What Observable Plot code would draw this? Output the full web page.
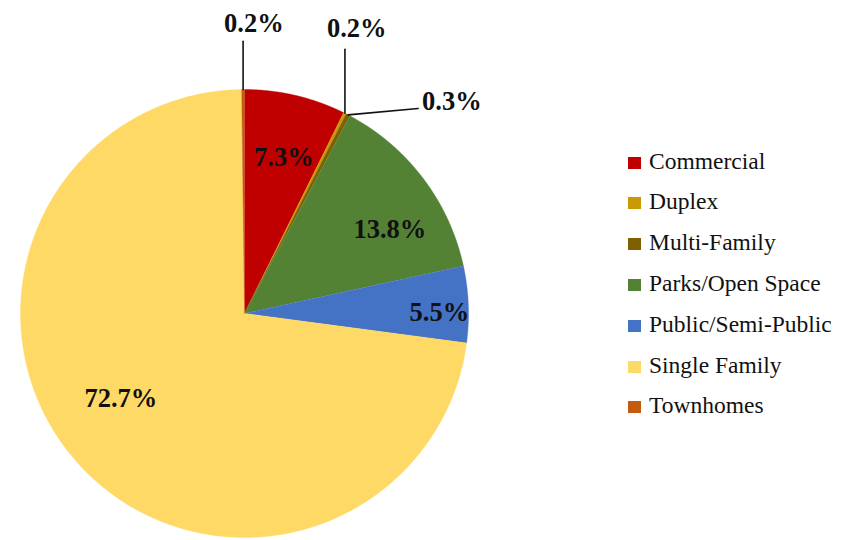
<!DOCTYPE html>
<html>
<head>
<meta charset="utf-8">
<script src="https://cdn.jsdelivr.net/npm/d3@7"></script>
<script src="https://cdn.jsdelivr.net/npm/@observablehq/plot@0.6"></script>
<style>
  html, body { margin: 0; padding: 0; background: #fff; }
  #wrap { position: relative; width: 846px; height: 540px; overflow: hidden; }
  #chart { position: absolute; left: 0; top: 0; }
  #legend { position: absolute; left: 628px; top: 0; font-family: "Liberation Serif", serif; font-size: 23.5px; color: #111; }
  .row { position: absolute; left: 0; display: flex; align-items: center; white-space: nowrap; height: 30px; }
  .sw { width: 13px; height: 12px; margin-right: 8px; margin-top: 3px; }
</style>
</head>
<body>
<div id="wrap"><div id="chart"></div><div id="legend"></div></div>
<script>
// ---- data ----
const categories = ["Commercial", "Duplex", "Multi-Family", "Parks/Open Space", "Public/Semi-Public", "Single Family", "Townhomes"];
const shares = [7.3, 0.2, 0.3, 13.8, 5.5, 72.7, 0.2];
const shareLabels = ["7.3%", "0.2%", "0.3%", "13.8%", "5.5%", "72.7%", "0.2%"];
const colors = ["#C00000", "#C99A06", "#7F6000", "#548235", "#4472C4", "#FFD966", "#C55A11"];

// ---- layout (not data) ----
const inside = { // radius fraction and angular nudge (deg) for inside labels
  "Commercial": [0.72, 1],
  "Parks/Open Space": [0.75, 7],
  "Public/Semi-Public": [0.87, 2],
  "Single Family": [0.67, 7]
};
const outside = { // leader end points, in pie-radius units
  "Townhomes": {end: [null, 1.215], anchor: "start", dx: -19, dy: -9, lineAnchor: "bottom"},
  "Duplex": {end: [null, 1.18], anchor: "start", dx: -18, dy: -12, lineAnchor: "bottom"},
  "Multi-Family": {end: [0.775, 0.915], anchor: "start", dx: 4, dy: -7, lineAnchor: "middle"}
};

const rows = categories.map((c, i) => ({cat: c, share: shares[i], label: shareLabels[i]}));
const arcs = d3.pie().sort(null).value(d => d.share)(rows);

// slice polygons
const polys = [];
for (const a of arcs) {
  polys.push({cat: a.data.cat, x: 0, y: 0});
  const n = Math.max(2, Math.ceil((a.endAngle - a.startAngle) / (Math.PI / 720)));
  for (let k = 0; k <= n; k++) {
    const t = a.startAngle + (a.endAngle - a.startAngle) * k / n;
    polys.push({cat: a.data.cat, x: Math.sin(t), y: Math.cos(t)});
  }
}

const inLabels = [], leaders = [], outLabels = [];
for (const a of arcs) {
  const mid = (a.startAngle + a.endAngle) / 2;
  const c = a.data.cat;
  if (inside[c]) {
    const [r, nudge] = inside[c];
    const t = mid + nudge * Math.PI / 180;
    inLabels.push({x: r * Math.sin(t), y: r * Math.cos(t), text: a.data.label});
  } else if (outside[c]) {
    const o = outside[c];
    const sx = Math.sin(mid), sy = Math.cos(mid);
    const ex = o.end[0] == null ? sx : o.end[0];
    const ey = o.end[1];
    leaders.push({id: c, x: sx, y: sy}, {id: c, x: ex, y: ey});
    outLabels.push({x: ex, y: ey, text: a.data.label, o});
  }
}

const font = "Liberation Serif";
const outMarks = outLabels.map(d => Plot.text([d], {
  x: "x", y: "y", text: "text", textAnchor: d.o.anchor, lineAnchor: d.o.lineAnchor,
  dx: d.o.dx, dy: d.o.dy, fontSize: 26.5, fontWeight: "bold", fontFamily: font, fill: "#111"
}));

const chart = Plot.plot({
  width: 846, height: 540,
  margin: 0,
  x: {domain: [-1, 1], range: [20, 468], axis: null},
  y: {domain: [-1, 1], range: [537, 89], axis: null},
  color: {domain: categories, range: colors},
  marks: [
    Plot.line(polys, {x: "x", y: "y", z: "cat", fill: "cat", stroke: "cat", strokeWidth: 0.4, curve: "linear"}),
    Plot.line(leaders, {x: "x", y: "y", z: "id", stroke: "#111", strokeWidth: 1.6}),
    Plot.text(inLabels, {x: "x", y: "y", text: "text", fontSize: 26.5, fontWeight: "bold", fontFamily: font, fill: "#111"}),
    ...outMarks
  ]
});
document.getElementById("chart").appendChild(chart);

// legend
const legend = document.getElementById("legend");
categories.forEach((c, i) => {
  const row = document.createElement("div");
  row.className = "row";
  row.style.top = (146 + i * 40.8) + "px";
  const sw = document.createElement("span");
  sw.className = "sw";
  sw.style.background = colors[i];
  const tx = document.createElement("span");
  tx.textContent = c;
  row.appendChild(sw); row.appendChild(tx);
  legend.appendChild(row);
});
</script>
</body>
</html>
